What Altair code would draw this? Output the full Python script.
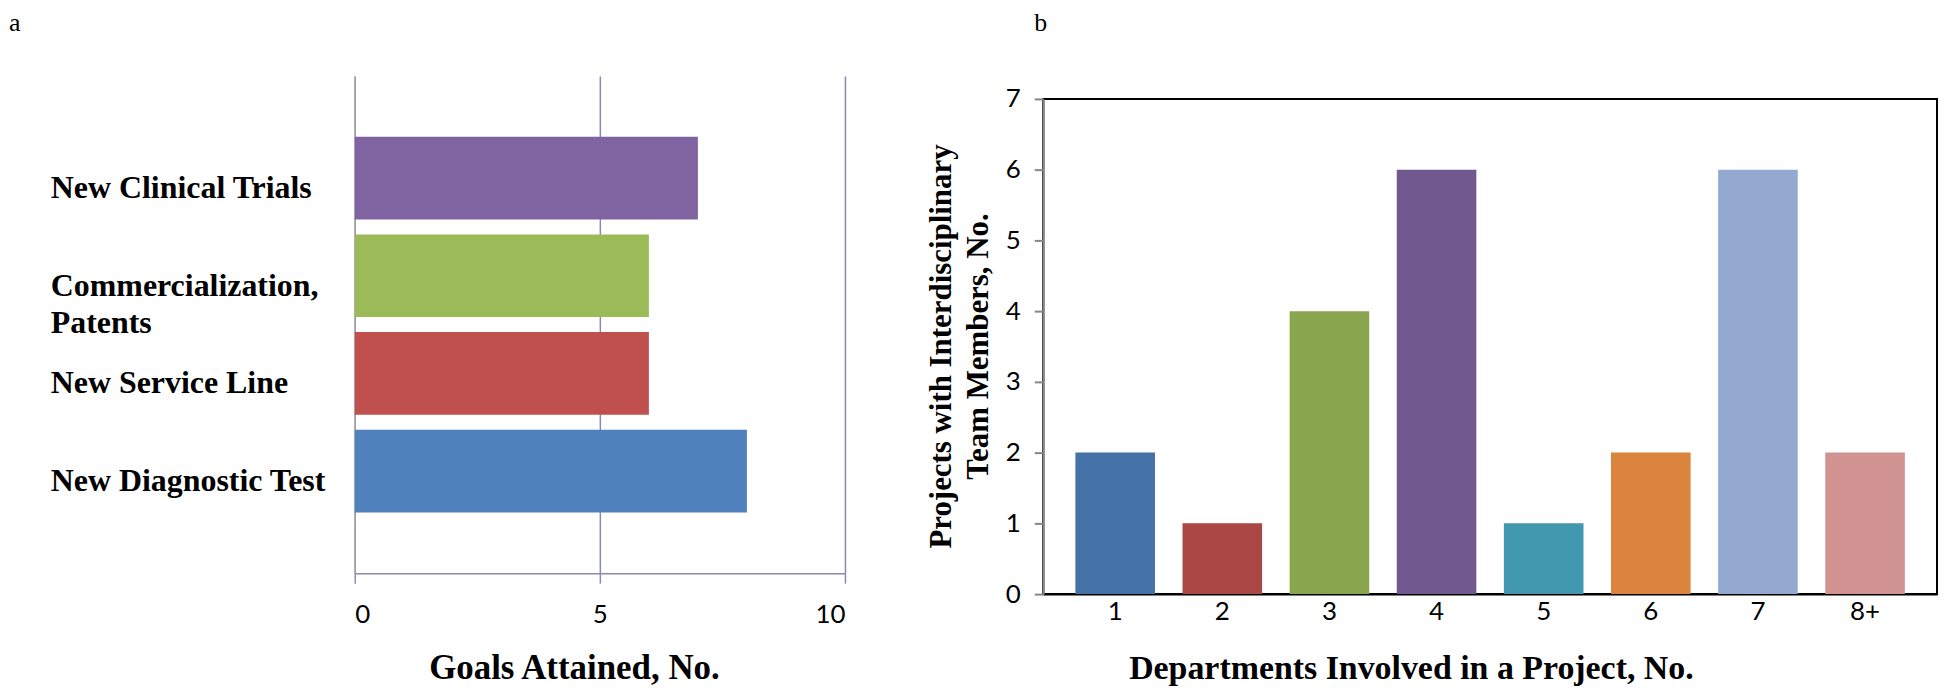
import altair as alt
import pandas as pd

# ---------------- data ----------------
goal_categories = ["New Clinical Trials", "Commercialization,|Patents", "New Service Line", "New Diagnostic Test"]
goal_values = [7, 6, 6, 8]
goal_colors = ["#8064A2", "#9BBB59", "#C0504D", "#4F81BD"]
goal_ticks = [0, 5, 10]

dept_categories = ["1", "2", "3", "4", "5", "6", "7", "8+"]
dept_values = [2, 1, 4, 6, 1, 2, 6, 2]
dept_colors = ["#4572A7", "#AA4643", "#89A54E", "#71588F", "#4198AF", "#DB843D", "#93A9CF", "#D19392"]
dept_ticks = [0, 1, 2, 3, 4, 5, 6, 7]

panel_labels = ["a", "b"]
left_title = "Goals Attained, No."
right_x_title = "Departments Involved in a Project, No."
right_y_title = ["Projects with Interdisciplinary", "Team Members, No."]

SERIF = "Liberation Serif"
SANS = "Lato"

goals = pd.DataFrame({"goal": goal_categories, "count": goal_values})
depts = pd.DataFrame({"dept": dept_categories, "count": dept_values})

LW, LH = 492, 499
RW, RH = 897, 497

# ---------------- left panel ----------------
left_y = alt.Y(
    "goal:N", sort=goal_categories,
    scale=alt.Scale(paddingInner=0.153, paddingOuter=0.622),
    axis=alt.Axis(labels=False, ticks=False, title=None, grid=False,
                  domainColor="#a0a0a0", domainWidth=1.5),
)
left_x = alt.X(
    "count:Q",
    scale=alt.Scale(domain=[0, 10], nice=False),
    axis=alt.Axis(values=goal_ticks, format="d", grid=True, gridColor="#8a8aab", gridWidth=1.5,
                  tickColor="#8a8aab", tickSize=10, tickWidth=1.5,
                  domainColor="#8a8aab", domainWidth=1.5,
                  labelFont=SANS, labelFontSize=26, labelColor="#000", labelPadding=18,
                  title=left_title, titleFont=SERIF, titleFontSize=35, titleFontWeight="bold",
                  titleColor="#000", titleX=220, titleY=106, titleAlign="center",
                  titleBaseline="alphabetic"),
)

bars_l = alt.Chart(goals).mark_bar().encode(
    y=left_y, x=left_x,
    color=alt.Color("goal:N", scale=alt.Scale(domain=goal_categories, range=goal_colors), legend=None),
)
labels_l = alt.Chart(goals).mark_text(
    align="left", baseline="alphabetic", lineBreak="|", font=SERIF, fontSize=32,
    fontWeight="bold", color="#000", lineHeight=37, dy=20,
).encode(y=left_y, x=alt.value(-305), text="goal:N")
a_label = alt.Chart(pd.DataFrame({"t": [panel_labels[0]]})).mark_text(
    align="left", baseline="alphabetic", font=SERIF, fontSize=26, color="#000",
).encode(x=alt.value(-347), y=alt.value(-45), text="t:N")

left = alt.layer(bars_l, labels_l, a_label).properties(
    width=LW, height=LH, view=alt.ViewBackground(stroke="transparent")
)

# ---------------- right panel ----------------
right_x = alt.X(
    "dept:N", sort=dept_categories,
    scale=alt.Scale(paddingInner=0.257, paddingOuter=0.30),
    axis=alt.Axis(labelAngle=0, ticks=False, domainColor="#000", domainWidth=2,
                  labelFont=SANS, labelFontSize=26, labelColor="#000", labelPadding=4,
                  title=right_x_title, titleFont=SERIF, titleFontSize=34, titleFontWeight="bold",
                  titleColor="#000", titleX=369, titleY=85, titleAlign="center",
                  titleBaseline="alphabetic"),
)
right_y = alt.Y(
    "count:Q",
    scale=alt.Scale(domain=[0, 7], nice=False),
    axis=alt.Axis(values=dept_ticks, format="d", grid=False,
                  domainColor="#868686", domainWidth=2,
                  tickColor="#868686", tickSize=9, tickWidth=2,
                  labelFont=SANS, labelFontSize=26, labelColor="#000", labelPadding=14,
                  title=right_y_title, titleFont=SERIF, titleFontSize=31, titleFontWeight="bold",
                  titleColor="#000", titleX=-93, titleY=248, titleAlign="center",
                  titleBaseline="alphabetic", titleAngle=270, titleLineHeight=37),
)
bars_r = alt.Chart(depts).mark_bar().encode(
    x=right_x, y=right_y,
    color=alt.Color("dept:N", scale=alt.Scale(domain=dept_categories, range=dept_colors), legend=None),
)
b_label = alt.Chart(pd.DataFrame({"t": [panel_labels[1]]})).mark_text(
    align="left", baseline="alphabetic", font=SERIF, fontSize=26, color="#000",
).encode(x=alt.value(-9), y=alt.value(-68), text="t:N")

right = alt.layer(bars_r, b_label).properties(
    width=RW, height=RH, view=alt.ViewBackground(stroke="#000", strokeWidth=2)
)

spacer = alt.Chart(pd.DataFrame({"s": [0]})).mark_rule(opacity=0).encode(
    x=alt.value(0)
).properties(width=RW, height=23, view=alt.ViewBackground(stroke="transparent"))

right_col = alt.vconcat(spacer, right, spacing=0, bounds="flush").resolve_scale(color="independent")

chart = alt.hconcat(
    left, right_col, spacing=199, bounds="flush",
).resolve_scale(color="independent").properties(padding=0, background="white")

chart.save("out.html", embed_options={"renderer": "svg", "actions": False})
